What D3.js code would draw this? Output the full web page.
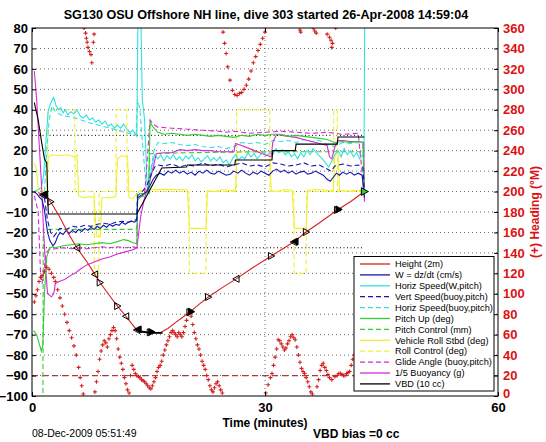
<!DOCTYPE html>
<html><head><meta charset="utf-8">
<script src="https://cdn.jsdelivr.net/npm/d3@7"></script>
<style>
html,body{margin:0;padding:0;background:#fff;}
svg{display:block;font-family:"Liberation Sans",Arial,Helvetica,sans-serif;}
</style></head>
<body><svg id="c" width="546" height="442"></svg>
<script>
// ---------------- DATA ----------------
const title = "SG130 OSU Offshore NH line, dive 303 started 26-Apr-2008 14:59:04";
const xTicks = [0, 30, 60];
const yTicks = [80,70,60,50,40,30,20,10,0,-10,-20,-30,-40,-50,-60,-70,-80,-90,-100];
const yRTicks = [360,340,320,300,280,260,240,220,200,180,160,140,120,100,80,60,40,20,0];

const heightPts = [[0.8,-0.5],[1.4,-1.7],[2.4,-5],[3.5,-12],[4.6,-20],[5.8,-27.6],[7,-34],[8.1,-40.5],[8.75,-44.5],[9.9,-50.5],[11,-56],[12.1,-61],[12.8,-64.5],[13.5,-67.7],[14.3,-68.7],[15.2,-68.9],[16.5,-69],[17.5,-67],[18.5,-64],[19.4,-61.5],[20.3,-59],[21.5,-55.2],[22.7,-51.6],[24.5,-47],[26.3,-42.7],[28.5,-37],[30.8,-31.5],[32.3,-28],[33.7,-24.7],[35.3,-19.8],[37.3,-14.5],[39.3,-9],[41,-5],[42.8,0]];
const apogeePts = [[13.6,-68.2],[15.2,-69.1],[16.8,-69.1]];
// markers: [t, height, direction(-1 left,1 right), doubled]
const heightMarks = [[1.4,-1.7,-1,1],[2.4,-5,1,0],[5.8,-27.6,-1,0],[8.1,-40.5,-1,0],[8.75,-44.5,1,0],[11,-56,1,0],[12.1,-61,-1,0],[13.5,-67.7,-1,1],[15.2,-68.9,1,1],[20.3,-59,1,1],[22.7,-51.6,1,0],[26.3,-42.7,-1,0],[30.8,-31.5,1,0],[33.7,-24.7,-1,1],[35.3,-19.8,1,0],[39.3,-9,1,1]];
const endMark = [42.8, 0];

const wPts = [[0.2,0],[0.6,-1],[1.0,-3],[1.3,-4],[1.6,-9],[2.0,-20],[2.3,-24],[2.7,-26.5],[3.0,-25],[3.3,-22],[3.6,-20],[4.0,-21],[4.4,-19],[4.8,-20.5],[5.2,-19],[5.6,-20],[6.0,-18.5],[6.4,-19.5],[6.8,-18],[7.2,-19],[7.6,-17.5],[8.0,-18.5],[8.4,-17],[8.8,-18],[9.2,-16.5],[9.6,-17.5],[10.0,-16],[10.4,-17],[10.8,-16],[11.2,-16.5],[11.6,-15],[12.0,-16],[12.4,-15],[12.8,-14.5],[13.2,-15],[13.5,-14],[13.6,-3],[14.0,-2],[14.4,-1],[14.8,0],[15.2,3],[15.6,6],[16.0,8],[16.5,9],[17.0,8],[17.5,10],[18.0,9],[18.5,10.5],[19.0,9],[19.5,10],[20.0,8.5],[20.5,9.5],[21.0,8],[21.5,10],[22.0,9],[22.5,10.5],[23.0,9],[23.5,8.5],[24.0,10],[24.5,9],[25.0,8],[25.5,8.5],[26.0,10],[26.5,9],[27.0,10.5],[27.5,9],[28.0,8],[28.5,9.5],[29.0,8.5],[29.5,10],[30.0,9],[30.5,8],[31.0,10],[31.5,11],[32.0,9.5],[32.5,10.5],[33.0,9],[33.5,10],[34.0,8.5],[34.5,9.5],[35.0,10],[35.5,8.5],[36.0,9],[36.5,10],[37.0,9],[37.5,8],[38.0,6],[38.4,5],[38.8,7],[39.2,9],[39.6,8],[40.0,9.5],[40.5,8.5],[41.0,9.5],[41.5,8],[42.0,9],[42.5,8],[42.8,-3]];

const vertSpeedPts = [[1.6,-3],[2.0,-14],[2.4,-20],[2.8,-22],[3.2,-20],[3.6,-18],[4.4,-18.5],[5.2,-17],[6.0,-17.5],[6.8,-16.5],[7.6,-17],[8.4,-16],[9.2,-15.5],[10.0,-16],[10.8,-15],[11.6,-14.5],[12.4,-15],[13.2,-14],[13.5,-13.5],[13.6,-2],[14.2,0],[14.8,3],[15.3,8],[15.8,12],[16.2,13],[17,12.5],[18,13.5],[19,12],[20,13],[21,12.5],[22,14],[23,12.5],[24,13.5],[25,12],[26,13],[27,14],[28,12.5],[29,13],[30,12],[31,14],[32,13.5],[33,12.5],[34,13],[35,14],[36,12.5],[37,13],[38,11],[38.5,10],[39,12.5],[40,13.5],[41,12.5],[42,13],[42.6,12],[42.8,0]];

const horizSpeedPts = [[0.3,0],[0.8,1],[1.2,2],[1.5,8],[1.8,25],[2.1,40],[2.5,44],[2.8,46],[3.1,42],[3.4,40],[3.7,41],[4.0,38.5],[4.3,40],[4.6,37.5],[5.0,39],[5.4,38],[5.8,40],[6.2,37],[6.6,36],[7.0,37.5],[7.4,35],[7.8,36],[8.2,34],[8.6,35],[9.0,33],[9.4,34.5],[9.8,32],[10.2,33],[10.6,31],[11.0,32.5],[11.4,31],[11.8,33],[12.2,30.5],[12.6,29],[13.0,30],[13.3,28],[13.5,27],[13.65,90],[14.0,90],[14.2,45],[14.5,35],[14.8,5],[15.1,2],[15.4,12],[15.8,18],[16.2,16],[16.6,18],[17.0,15],[17.4,17.5],[17.8,16],[18.2,18],[18.6,15.5],[19.0,17],[19.4,15],[19.8,17.5],[20.2,16],[20.6,18],[21.0,15],[21.4,16.5],[21.8,14.5],[22.2,16],[22.6,17.5],[23.0,15],[23.4,16.5],[23.8,15],[24.2,17],[24.6,14],[25.0,15.5],[25.4,13],[25.8,16],[26.2,18],[26.6,15.5],[27.0,17],[27.4,16],[27.8,19],[28.2,17],[28.6,18.5],[29.0,16],[29.4,18],[29.8,19.5],[30.2,17.5],[30.6,19],[31.0,18],[31.4,21],[31.8,19],[32.2,20.5],[32.6,18],[33.0,19.5],[33.4,17],[33.8,18.5],[34.2,16],[34.6,19],[35.0,17],[35.4,20],[35.8,18],[36.2,21],[36.6,19],[37.0,17.5],[37.4,16],[37.8,14],[38.2,12],[38.6,15],[39.0,18],[39.4,20],[39.8,17],[40.2,21],[40.6,18],[41.0,20],[41.4,17],[41.8,19],[42.2,16],[42.6,18],[42.75,17],[42.85,95]];

const horizBuoyPts = [[1.6,0],[1.9,20],[2.2,35],[2.6,42],[3.0,39],[4,37],[5,36.5],[6,35.5],[7,34],[8,33],[9,32],[10,31],[11,30],[12,29],[13,28],[13.4,28],[13.6,45],[13.9,40],[14.3,20],[14.7,2],[15.2,8],[15.7,20],[16.2,24],[17,23.5],[18,24],[19,23],[20,22.5],[21,23],[22,22],[23,21.5],[24,22],[25,21],[26,22],[27,24],[28,23.5],[29,24],[30,23],[31,25],[32,24.5],[33,25],[34,24],[35,25.5],[36,24.5],[37,25],[38,23],[39,22],[40,24],[41,23.5],[42,24],[42.6,23],[42.8,0]];

const pitchPts = [[0.2,-68],[0.6,-70],[0.9,-74],[1.2,-78],[1.4,-75],[1.6,-50],[1.9,-32],[2.2,-28],[2.6,-27],[3,-27.5],[4,-26.5],[5,-26],[6,-25.5],[7,-26],[8,-25.5],[9,-25],[10,-25.5],[11,-24.5],[11.8,-23.5],[12.4,-24],[13,-25],[13.5,-25.5],[13.6,-4],[14.2,-2],[15.0,0],[15.2,34],[15.5,32],[16.2,29],[17,28],[18,28.5],[19,28],[20,27.5],[21,28],[22,27.5],[23,27],[24,27.5],[25,27],[26,26.5],[27,27.5],[28,27],[29,28],[30,27.5],[31,28],[32,28],[33,27],[34,27.5],[35,27],[36,26.5],[37,26],[38,25.5],[39,24],[40,24.5],[41,24],[42,24.5],[42.6,24],[42.8,-2]];

const pitchCtrlPts = [[0.3,-110],[1.4,-110],[1.45,-18.5],[13.5,-18.5],[13.55,-1],[15.1,-1],[15.15,18.5],[20,19],[30,19.5],[42.7,19.5],[42.8,0]];

const rollPts = [[0.3,14],[0.5,12],[0.8,2],[1.2,0],[1.6,-1],[1.9,1],[2.1,17],[2.6,18],[3.5,17.5],[4.5,18],[5.5,17],[5.8,18],[6.0,-2],[6.6,-3],[7.4,-2.5],[8.0,-3],[8.3,-22],[8.8,-22],[9.0,-3],[10,-3],[10.8,-2.5],[11.0,16],[11.5,17.5],[12.3,17],[12.5,-3],[13.0,-3.5],[13.5,-1],[14,0.5],[15,0.8],[16,1],[17,1.2],[18,1],[19,1],[20,0.8],[20.3,-18],[22.4,-18],[22.6,0.5],[23.5,0],[24.5,1],[25.5,0.5],[26.2,0.7],[26.4,19.5],[30.6,19.5],[30.8,0.5],[31.5,0],[32.5,1],[33.5,0.5],[33.8,-18],[35.3,-18],[35.5,0.5],[36.5,1],[38.8,0.5],[39.0,18],[39.4,18],[39.6,0.5],[40.5,0.2],[41.5,0.5],[42.8,0.5]];

const rollCtrlPts = [[0.3,0],[2.0,0],[2.05,40],[5.5,40],[5.55,0],[8.0,0],[8.05,-40],[8.6,-40],[8.65,0],[10.8,0],[10.85,40],[12.2,40],[12.25,0],[20.2,0],[20.25,-40],[22.4,-40],[22.45,0],[26.3,0],[26.35,40],[30.6,40],[30.65,0],[33.7,0],[33.75,-40],[35.3,-40],[35.35,0],[38.8,0],[38.85,40],[39.3,40],[39.35,0],[42.8,0]];

const glidePts = [[0.3,-2],[0.8,-10],[1.1,-40],[1.3,-45],[1.5,-40],[1.8,-30],[2.2,-28.5],[3,-28],[4,-27.5],[5,-28],[6,-27.5],[7,-28],[8,-27.5],[9,-27],[10,-27.5],[11,-27],[12,-27.5],[13,-27],[13.5,-27.5],[13.6,-3],[14.5,-2],[15.2,35],[15.6,33],[16.2,31.5],[18,31],[20,30.5],[22,30],[24,29.5],[25,29],[26,29.5],[27,29],[28,28.5],[30,29],[32,29.5],[34,29],[36,28.5],[38,29],[40,28],[42,28.5],[42.8,-2]];

const buoyPts = [[0.3,59],[0.6,45],[0.9,25],[1.2,5],[1.5,-20],[1.8,-40],[2.0,-50],[2.5,-51.5],[2.8,-50],[3.0,-45],[3.5,-44],[4.2,-43],[5.0,-41],[5.5,-40],[6.2,-38],[7,-36],[8,-34.5],[9,-33],[10,-32],[11,-30.5],[12,-29.5],[13,-28.5],[13.5,-27.5],[14.0,-12],[14.5,-3],[15.0,3],[15.5,10],[16.0,18.5],[17,19],[18,19],[19,20.5],[20,20],[21,20.5],[22,20],[23,20],[24,19.5],[25,19.5],[26,19.5],[26.2,23.5],[27,22.5],[28,21],[29,19.5],[30,18],[30.8,17],[31.0,24],[31.5,28],[32,27.5],[33,27],[34,26.5],[35,25.5],[36,24.5],[37,23.5],[38,22.5],[38.3,17],[38.6,16],[39,22],[39.4,25],[40,25],[41,24.5],[42,24.5],[42.7,24],[42.8,-5]];

const vbdPts = [[0.3,43.5],[0.8,35],[1.2,25],[1.6,16],[1.9,14],[2.1,-11],[13.5,-11],[16.7,11.5],[19.9,12],[20.0,13],[26.1,13],[26.2,15.4],[30.9,15.4],[31.0,20],[33.9,20],[34.0,23.2],[39.3,23.2],[39.4,26.7],[42.8,26.7]];

const glideTarget = [[0,27.5],[42.8,27.5]];
const glideTargetNeg = [[0,-27.5],[42.8,-27.5]];
const headingTarget = 20; // degrees, dashed line

// heading scatter [t, heading deg]
const headingPts = [[0.3,92],[0.5,98],[0.7,104],[0.9,112],[1.1,116],[1.3,118],[1.6,122],[1.9,126],[2.2,124],[2.5,120],[2.8,116],[3.0,112],[3.3,104],[3.6,96],[3.9,88],[4.2,80],[4.5,72],[4.8,64],[5.1,57],[5.4,49],[5.7,40],[6.0,28],[6.2,18],[6.4,10],[6.6,2],
[6.7,360],[6.9,355],[7.0,350],[7.1,346],[7.2,341],[7.4,337],[7.6,334],[7.7,326],[7.9,346],[8.0,354],
[8.1,4],[8.3,14],[8.5,24],[8.7,36],[8.9,44],[9.1,50],[9.3,54],[9.5,52],[9.7,48],[9.9,56],[10.1,60],[10.3,64],[10.5,67],[10.7,64],[10.9,56],[11.1,46],[11.3,38],[11.5,32],[11.7,26],[11.9,18],[12.1,12],[12.3,6],[12.5,3],[12.7,20],[12.9,30],[13.1,26],[13.3,22],[13.5,20],[13.7,19],[13.9,18],[14.1,16],[14.3,15],[14.5,14],[14.7,12],[14.9,10],[15.1,8],[15.3,7],[15.5,10],[15.7,14],[15.9,18],[16.1,24],[16.3,28],[16.5,30],[16.7,34],[16.9,40],[17.1,45],[17.3,50],[17.5,54],[17.7,58],[17.9,62],[18.1,64],[18.3,62],[18.5,60],[18.7,58],[18.9,62],[19.1,60],[19.3,58],[19.5,62],[19.7,68],[19.9,74],[20.1,80],[20.3,84],[20.5,78],[20.7,70],[20.9,62],[21.1,56],[21.3,50],[21.5,46],[21.7,40],[21.9,34],[22.1,30],[22.3,26],[22.5,20],[22.7,16],[22.9,10],[23.1,6],[23.3,4],[23.5,8],[23.7,12],[23.9,14],[24.1,10],[24.3,6],[24.5,3],
[24.6,356],[24.8,345],[25.0,335],[25.2,322],[25.5,309],[25.8,299],[26.1,295],[26.4,294],[26.7,296],[27.0,297],[27.3,300],[27.6,304],[27.9,310],[28.2,318],[28.5,326],[28.8,332],[29.1,338],[29.4,344],[29.7,350],[30.0,356],
[30.1,3],[30.4,11],[30.7,18],[30.9,22],[31.1,30],[31.3,38],[31.5,46],[31.7,55],[31.9,54],[32.1,51],[32.3,48],[32.5,45],[32.7,47],[32.9,51],[33.1,54],[33.3,58],[33.5,60],[33.7,57],[33.9,55],[34.1,48],[34.3,40],[34.5,33],[34.7,27],[34.9,24],[35.1,22],[35.3,18],[35.5,14],[35.7,9],[35.9,4],[36.1,2],
[34.5,358],[34.6,356],[36.2,360],[36.4,357],[36.6,355],
[36.7,9],[36.9,16],[37.1,25],[37.3,30],[37.5,32],[37.7,28],[37.9,25],[38.1,21],[38.3,18],[38.6,16],
[38.0,354],[38.3,351],[38.5,348],[38.6,341],[38.7,345],[39.1,360],
[39.0,19],[39.3,20],[39.5,22],[39.7,22],[39.9,21],[40.1,20],[40.3,20],[40.5,22],[40.7,23],[40.9,24],[41.1,30],[41.3,36],[41.5,40],[41.7,44],[41.9,48],[42.1,52],[42.3,56],[42.5,60]];

const legendLabels = ["Height (2m)","W = dz/dt (cm/s)","Horiz Speed(W,pitch)","Vert Speed(buoy,pitch)","Horiz Speed(buoy,pitch)","Pitch Up (deg)","Pitch Control (mm)","Vehicle Roll Stbd (deg)","Roll Control (deg)","Glide Angle (buoy,pitch)","1/5 Buoyancy (g)","VBD (10 cc)"];

// ---------------- DRAW ----------------
const C = {red:"#d42020", blue:"#1515b0", cyan:"#33e0e0", green:"#33cc33", yellow:"#f0f030", magenta:"#d62ad6", black:"#000", brown:"#a84040"};
const svg = d3.select("#c");
const X0=32, X1=498, Y0=28, Y1=396;
const x = d3.scaleLinear().domain([0,60]).range([X0,X1]);
const y = d3.scaleLinear().domain([-100,80]).range([Y1,Y0]);
const yR = d3.scaleLinear().domain([0,360]).range([Y1,Y0]);

svg.append("rect").attr("width",546).attr("height",442).attr("fill","#fff");
svg.append("defs").append("clipPath").attr("id","clip").append("rect")
  .attr("x",X0).attr("y",Y0).attr("width",X1-X0).attr("height",Y1-Y0);

// grid
const grid = svg.append("g").attr("stroke","#444").attr("stroke-width",0.8).attr("stroke-dasharray","1,3");
grid.selectAll("line.h").data(yTicks.filter(v=>v>-100&&v<80)).join("line")
  .attr("x1",X0).attr("x2",X1).attr("y1",d=>y(d)).attr("y2",d=>y(d));
grid.selectAll("line.v").data(xTicks.filter(v=>v>0&&v<60)).join("line").attr("class","v")
  .attr("y1",Y0).attr("y2",Y1).attr("x1",d=>x(d)).attr("x2",d=>x(d));

const plot = svg.append("g").attr("clip-path","url(#clip)");
const line = d3.line().x(d=>x(d[0])).y(d=>y(d[1]));

// target lines
plot.append("path").attr("d",line(glideTarget)).attr("fill","none").attr("stroke","#000").attr("stroke-width",1).attr("stroke-dasharray","1,2.5");
plot.append("path").attr("d",line(glideTargetNeg)).attr("fill","none").attr("stroke","#000").attr("stroke-width",1).attr("stroke-dasharray","1,2.5");
plot.append("line").attr("x1",X0).attr("x2",X1).attr("y1",yR(headingTarget)).attr("y2",yR(headingTarget))
  .attr("stroke",C.brown).attr("stroke-width",1.2).attr("stroke-dasharray","6,4");

const series = [
  {pts:rollCtrlPts, color:C.yellow, dash:"5,3"},
  {pts:rollPts, color:C.yellow, dash:null},
  {pts:pitchCtrlPts, color:C.green, dash:"5,3"},
  {pts:horizBuoyPts, color:C.cyan, dash:"5,3"},
  {pts:horizSpeedPts, color:C.cyan, dash:null},
  {pts:glidePts, color:C.magenta, dash:"5,3"},
  {pts:buoyPts, color:C.magenta, dash:null},
  {pts:pitchPts, color:C.green, dash:null},
  {pts:vertSpeedPts, color:C.blue, dash:"5,3"},
  {pts:wPts, color:C.blue, dash:null},
  {pts:vbdPts, color:C.black, dash:null},
  {pts:heightPts, color:C.red, dash:null}
];
series.forEach(s=>{
  plot.append("path").attr("d",line(s.pts)).attr("fill","none").attr("stroke",s.color)
    .attr("stroke-width",1.1).attr("stroke-dasharray",s.dash);
});
plot.append("path").attr("d",line(apogeePts)).attr("fill","none").attr("stroke","#000").attr("stroke-width",1.8);

// heading crosses
const hc = plot.append("g").attr("stroke",C.red).attr("stroke-width",1.1);
headingPts.forEach(p=>{
  const cx=x(p[0]), cy=yR(p[1]);
  hc.append("path").attr("d",`M${cx-2},${cy}H${cx+2}M${cx},${cy-2}V${cy+2}`);
});

// triangle markers
function tri(cx,cy,dir,s){
  return dir<0 ? `M${cx-s},${cy}L${cx+s*0.8},${cy-s}L${cx+s*0.8},${cy+s}Z`
               : `M${cx+s},${cy}L${cx-s*0.8},${cy-s}L${cx-s*0.8},${cy+s}Z`;
}
const mk = plot.append("g").attr("fill","none").attr("stroke","#000").attr("stroke-width",1);
heightMarks.forEach(m=>{
  const cx=x(m[0]), cy=y(m[1]);
  mk.append("path").attr("d",tri(cx,cy,m[2],3.5));
  if(m[3]){ mk.append("path").attr("d",tri(cx+1.5,cy-0.5,m[2],3.5)).attr("fill","#000"); }
});
plot.append("path").attr("d",tri(x(endMark[0]),y(endMark[1]),1,3.8)).attr("fill","#33cc33").attr("stroke","#000");

// axes box
svg.append("rect").attr("x",X0).attr("y",Y0).attr("width",X1-X0).attr("height",Y1-Y0)
  .attr("fill","none").attr("stroke","#000").attr("stroke-width",1);

const fontTick = 'bold 13px "Liberation Sans", Arial, sans-serif';
const axL = svg.append("g").attr("transform",`translate(${X0},0)`)
  .call(d3.axisLeft(y).tickValues(yTicks).tickSize(-4).tickPadding(4));
const axR = svg.append("g").attr("transform",`translate(${X1},0)`)
  .call(d3.axisRight(yR).tickValues(yRTicks).tickSize(-4).tickPadding(5));
const axB = svg.append("g").attr("transform",`translate(0,${Y1})`)
  .call(d3.axisBottom(x).tickValues(xTicks).tickSize(-4).tickPadding(5));
const axT = svg.append("g").attr("transform",`translate(0,${Y0})`)
  .call(d3.axisTop(x).tickValues(xTicks).tickSize(-4).tickFormat(""));
[axL,axR,axB,axT].forEach(a=>{ a.select(".domain").remove(); a.selectAll("text").style("font",fontTick).attr("fill","#000"); });
axR.selectAll("text").attr("fill","#dd1111");
axR.selectAll(".tick").filter(d=>d===0).select("text").attr("dy","0.1em");
axB.selectAll("text").attr("y",16).attr("dy","0");

// texts
svg.append("text").attr("x",266).attr("y",19).attr("text-anchor","middle")
  .style("font",'bold 12.6px "Liberation Sans", Arial, sans-serif').text(title);
svg.append("text").attr("x",265).attr("y",427).attr("text-anchor","middle")
  .style("font",'bold 12px "Liberation Sans", Arial, sans-serif').text("Time (minutes)");
svg.append("text").attr("x",313).attr("y",438)
  .style("font",'bold 12px "Liberation Sans", Arial, sans-serif').text("VBD bias =0 cc");
svg.append("text").attr("x",32).attr("y",437)
  .style("font",'10.5px "Liberation Sans", Arial, sans-serif').text("08-Dec-2009 05:51:49");
svg.append("text").attr("transform","translate(539,212) rotate(-90)").attr("text-anchor","middle")
  .attr("fill","#dd1111").style("font",'bold 12px "Liberation Sans", Arial, sans-serif').text("(+) Heading (°M)");

// legend
const legStyles = [
  {color:C.red,dash:null},{color:C.blue,dash:null},{color:C.cyan,dash:null},{color:C.blue,dash:"5,3"},
  {color:C.cyan,dash:"5,3"},{color:C.green,dash:null},{color:C.green,dash:"5,3"},{color:C.yellow,dash:null},
  {color:C.yellow,dash:"5,3"},{color:C.magenta,dash:"5,3"},{color:C.magenta,dash:null},{color:C.black,dash:null}];
const lg = svg.append("g");
lg.append("rect").attr("x",354).attr("y",256.5).attr("width",140).attr("height",134.5)
  .attr("fill","#fff").attr("stroke","#000").attr("stroke-width",1);
legendLabels.forEach((lab,i)=>{
  const ly = 264 + i*10.9;
  lg.append("line").attr("x1",360).attr("x2",390).attr("y1",ly).attr("y2",ly)
    .attr("stroke",legStyles[i].color).attr("stroke-width",1.3).attr("stroke-dasharray",legStyles[i].dash);
  lg.append("text").attr("x",395).attr("y",ly).attr("dy","0.35em")
    .style("font",'9.2px "Liberation Sans", Arial, sans-serif').text(lab);
});
</script></body></html>
